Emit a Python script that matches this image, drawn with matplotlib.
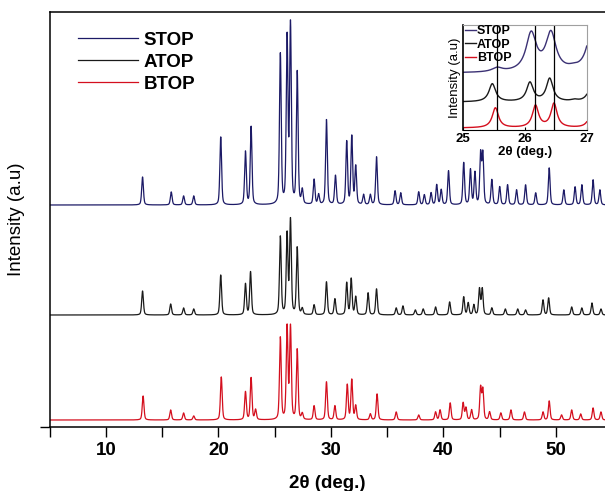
import numpy as np
import matplotlib
matplotlib.use("Agg")
import matplotlib.pyplot as plt
from matplotlib.ticker import MultipleLocator

plt.rcParams['font.family'] = ['Liberation Sans', 'DejaVu Sans']

# ---- main pattern: peak positions (2theta, deg) and heights (a.u.) ----
stop_pos = [13.25, 15.8, 16.9, 17.8, 20.2, 22.4, 22.9, 25.5, 26.1, 26.4, 27.0, 27.45,
            28.5, 28.9, 29.6, 30.4, 31.4, 31.85, 32.2, 32.9, 33.5, 34.05, 35.7, 36.2,
            37.8, 38.3, 38.9, 39.4, 39.8, 40.45, 41.8, 42.4, 42.8, 43.3, 43.5, 44.3,
            45.0, 45.7, 46.5, 47.3, 48.2, 49.4, 50.7, 51.7, 52.3, 53.3, 53.9]
stop_h = [28, 13, 9, 9, 68, 53, 78, 150, 165, 178, 132, 14,
          25, 10, 85, 29, 63, 68, 38, 10, 10, 48, 14, 12,
          13, 10, 12, 20, 15, 34, 42, 35, 32, 50, 50, 25,
          18, 20, 15, 20, 12, 37, 15, 18, 20, 25, 15]

atop_pos = [13.25, 15.75, 16.9, 17.8, 20.2, 22.4, 22.85, 25.5, 26.1, 26.4, 27.0, 27.45,
            28.5, 29.6, 30.35, 31.4, 31.8, 32.2, 33.3, 34.05, 35.8, 36.4, 37.5, 38.2,
            39.3, 40.55, 41.8, 42.2, 42.7, 43.2, 43.45, 44.3, 45.5, 46.6, 47.3, 48.85,
            49.35, 51.4, 52.3, 53.2, 54.0]
atop_h = [24, 11, 7, 6, 40, 31, 43, 78, 80, 94, 67, 6,
          10, 33, 16, 32, 36, 18, 22, 26, 7, 9, 5, 6,
          8, 13, 18, 12, 10, 26, 26, 7, 6, 6, 5, 15,
          17, 8, 7, 12, 6]

btop_pos = [13.3, 15.75, 16.9, 17.8, 20.25, 22.4, 22.9, 23.3, 25.5, 26.1, 26.4, 27.0,
            27.45, 28.5, 29.6, 30.35, 31.45, 31.85, 32.2, 33.5, 34.1, 35.8, 37.8, 39.3,
            39.7, 40.6, 41.75, 42.0, 42.5, 43.3, 43.5, 44.1, 45.1, 46.0, 47.2, 48.85,
            49.4, 50.5, 51.4, 52.2, 53.3, 54.0]
btop_h = [24, 10, 7, 4, 43, 28, 42, 10, 82, 92, 92, 70,
          6, 14, 38, 14, 35, 40, 14, 6, 26, 8, 5, 8,
          10, 17, 17, 12, 10, 32, 30, 8, 7, 10, 8, 8,
          19, 5, 10, 6, 12, 8]

offsets = {'STOP': 222, 'ATOP': 112, 'BTOP': 7}
colors = {'STOP': '#1c1a66', 'ATOP': '#1a1a1a', 'BTOP': '#d40f1e'}

# ---- inset (25-27 deg) ----
in_stop_pos = [25.55, 26.1, 26.42, 26.78, 27.1]
in_stop_h = [4, 38, 38, 2, 50]
in_atop_pos = [25.47, 26.08, 26.4, 26.8, 27.08]
in_atop_h = [18, 19, 23, 1.5, 18]
in_btop_pos = [25.52, 26.17, 26.47, 27.08]
in_btop_h = [20, 22, 24, 16]
in_offsets = {'STOP': 57, 'ATOP': 28, 'BTOP': 2}
in_gamma = {'STOP': 0.1, 'ATOP': 0.065, 'BTOP': 0.06}
ref_lines = [25.54, 26.17, 26.47]


def pv(x, pos, amp, fwhm=0.18, eta=0.4):
    d = (x[:, None] - np.asarray(pos)) / (fwhm / 2)
    shape = eta / (1 + d ** 2) + (1 - eta) * np.exp(-np.log(2) * d ** 2)
    return (shape * np.asarray(amp)).sum(axis=1)


def lor(x, pos, amp, gamma):
    d = (x[:, None] - np.asarray(pos)) / gamma
    return (np.asarray(amp) / (1 + d ** 2)).sum(axis=1)


fig = plt.figure(figsize=(6.05, 4.91), dpi=100)
ax = fig.add_axes([49.75 / 605, 1 - 427 / 491, 1 - 49.75 / 605, 415 / 491])

x = np.linspace(5, 55, 6000)
series = [('STOP', stop_pos, stop_h), ('ATOP', atop_pos, atop_h), ('BTOP', btop_pos, btop_h)]
for name, pos, h in series:
    ax.plot(x, offsets[name] + pv(x, pos, h), color=colors[name], lw=0.9, label=name)

ax.set_xlim(5, 54.36)
ax.set_ylim(0, 415)
ax.xaxis.set_major_locator(MultipleLocator(10))
ax.xaxis.set_minor_locator(MultipleLocator(5))
ax.tick_params(axis='x', which='both', direction='out', length=7, width=1, pad=4)
ax.tick_params(axis='x', labelsize=13.5)
for t in ax.get_xticklabels():
    t.set_fontweight('bold')
ax.set_yticks([0])
ax.set_yticklabels([])
ax.tick_params(axis='y', direction='out', length=7, width=1)
ax.spines['right'].set_visible(False)
for s in ['left', 'top', 'bottom']:
    ax.spines[s].set_linewidth(1.1)
ax.set_xlabel('2θ (deg.)', fontsize=13.5, fontweight='bold', labelpad=11)
ax.set_ylabel('Intensity (a.u)', fontsize=13.5)
ax.yaxis.set_label_coords(-0.045, 0.5)

leg = ax.legend(loc='upper left', bbox_to_anchor=(0.051, 0.952), frameon=False,
                fontsize=13.5, handlelength=3.2, handletextpad=0.3,
                labelspacing=0.26, borderpad=0, borderaxespad=0)
for t in leg.get_texts():
    t.set_fontweight('bold')

# inset
axin = fig.add_axes([463.3 / 605, 1 - 130 / 491, 123.4 / 605, 105 / 491])
xi = np.linspace(25, 27, 800)
inset_series = [('STOP', in_stop_pos, in_stop_h), ('ATOP', in_atop_pos, in_atop_h),
                ('BTOP', in_btop_pos, in_btop_h)]
in_colors = {'STOP': '#3b3174', 'ATOP': '#1a1a1a', 'BTOP': '#d40f1e'}
for name, pos, h in inset_series:
    axin.plot(xi, in_offsets[name] + lor(xi, pos, h, in_gamma[name]),
              color=in_colors[name], lw=1.0, label=name)
for xv in ref_lines:
    axin.axvline(xv, color='black', lw=0.9)
axin.set_xlim(25, 27)
axin.set_ylim(0, 105)
axin.set_xticks([25, 26, 27])
axin.set_yticks([])
axin.tick_params(axis='x', direction='in', length=2, labelsize=9.5, pad=2)
for t in axin.get_xticklabels():
    t.set_fontweight('bold')
for s in ['top', 'right']:
    axin.spines[s].set_color('#a0a0a0')
axin.spines['left'].set_linewidth(1.2)
axin.set_xlabel('2θ (deg.)', fontsize=9.5, fontweight='bold', labelpad=1)
axin.set_ylabel('Intensity (a.u)', fontsize=9.5, labelpad=2)
leg2 = axin.legend(loc='upper left', bbox_to_anchor=(0.01, 1.0), frameon=False,
                   fontsize=9, handlelength=0.9, handletextpad=0.1,
                   labelspacing=0.12, borderpad=0, borderaxespad=0)
for t in leg2.get_texts():
    t.set_fontweight('bold')

fig.savefig('out.png', dpi=100)
